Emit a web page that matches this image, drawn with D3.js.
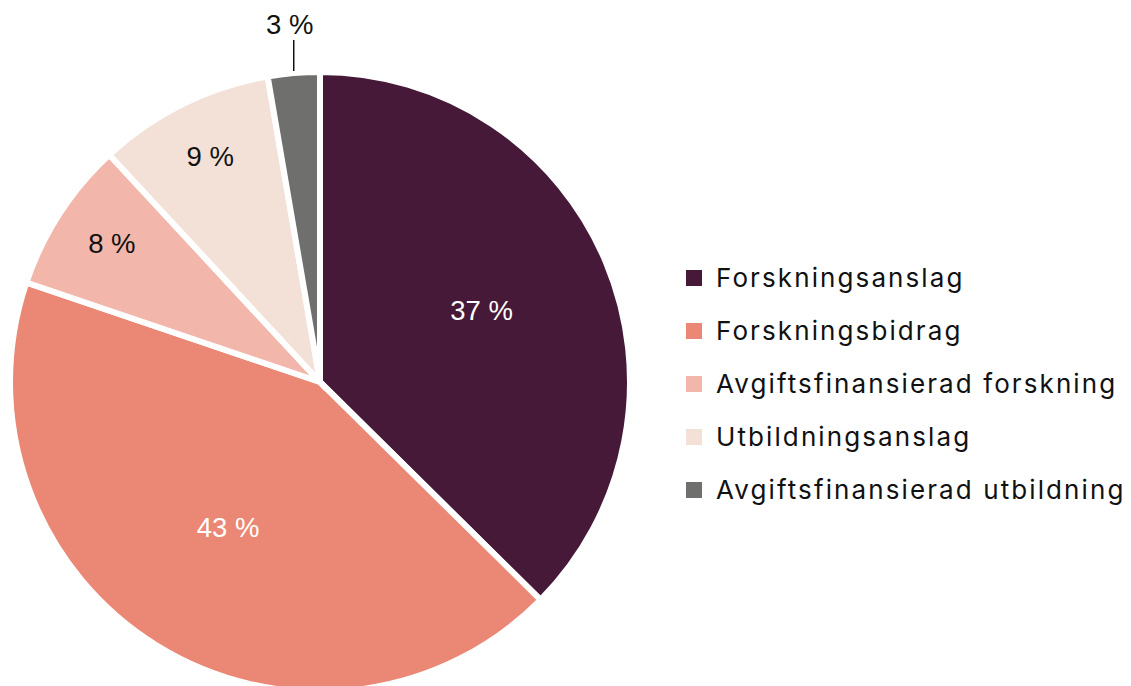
<!DOCTYPE html>
<html>
<head>
<meta charset="utf-8">
<style>
    body { margin: 0; background: #fff; }
    .slice-label { font: 27.5px "Liberation Sans", Arial, sans-serif; }
    .legend text { font: 26px Inter, "Noto Sans", sans-serif; letter-spacing: 2.1px; fill: #111; }
</style>
</head>
<body>
<script src="https://d3js.org/d3.v7.min.js"></script>
<script>
    // data
    var categories = ["Forskningsanslag", "Forskningsbidrag", "Avgiftsfinansierad forskning", "Utbildningsanslag", "Avgiftsfinansierad utbildning"];
    var values = [37.4, 42.8, 7.9, 9.2, 2.7];
    var labels = ["37 %", "43 %", "8 %", "9 %", "3 %"];
    var colors = ["#461938", "#eb8775", "#f2b6aa", "#f3e1d8", "#6f6f6e"];

    var width = 1131, height = 686;
    var cx = 320, cy = 382, radius = 310;

    var svg = d3.select("body").append("svg")
        .attr("width", width)
        .attr("height", height);

    var pie = d3.pie().sort(null).value(function(d) { return d; });
    var arcs = pie(values);
    var arc = d3.arc().innerRadius(0).outerRadius(radius);

    var g = svg.append("g").attr("transform", "translate(" + cx + "," + cy + ")");

    g.selectAll("path")
        .data(arcs)
        .enter().append("path")
        .attr("d", arc)
        .attr("fill", function(d, i) { return colors[i]; })
        .attr("stroke", "#fff")
        .attr("stroke-width", 6)
        .attr("stroke-linejoin", "miter");

    // labels: inside big slices, further out for small ones, outside for the tiniest
    function labelPos(d) {
        var r;
        if (d.value > 20) r = radius * 0.565;
        else if (d.value > 5) r = radius * 0.8;
        else r = radius * 1.15;
        var a = (d.startAngle + d.endAngle) / 2;
        return [Math.sin(a) * r, -Math.cos(a) * r];
    }

    g.selectAll(".slice-label")
        .data(arcs)
        .enter().append("text")
        .attr("class", "slice-label")
        .attr("x", function(d) { return labelPos(d)[0]; })
        .attr("y", function(d) { return labelPos(d)[1] - (d.value > 5 ? 4 : 3); })
        .attr("text-anchor", "middle")
        .attr("dy", "0.36em")
        .attr("fill", function(d, i) { return i < 2 ? "#fff" : "#111"; })
        .text(function(d, i) { return labels[i]; });

    // leader line for the small outside label
    arcs.forEach(function(d) {
        if (d.value > 5) return;
        var a = (d.startAngle + d.endAngle) / 2;
        var x = Math.sin(a) * radius;
        g.append("line")
            .attr("x1", x).attr("x2", x)
            .attr("y1", -radius - 1)
            .attr("y2", -radius - 32)
            .attr("stroke", "#111")
            .attr("stroke-width", 1.5);
    });

    // legend
    var legend = svg.append("g").attr("class", "legend")
        .attr("transform", "translate(686,278)");

    var item = legend.selectAll("g")
        .data(categories)
        .enter().append("g")
        .attr("transform", function(d, i) { return "translate(0," + i * 53 + ")"; });

    item.append("rect")
        .attr("x", 0).attr("y", -8)
        .attr("width", 16).attr("height", 16)
        .attr("fill", function(d, i) { return colors[i]; });

    item.append("text")
        .attr("x", 30)
        .attr("dy", "0.36em")
        .text(function(d) { return d; });
</script>
</body>
</html>
